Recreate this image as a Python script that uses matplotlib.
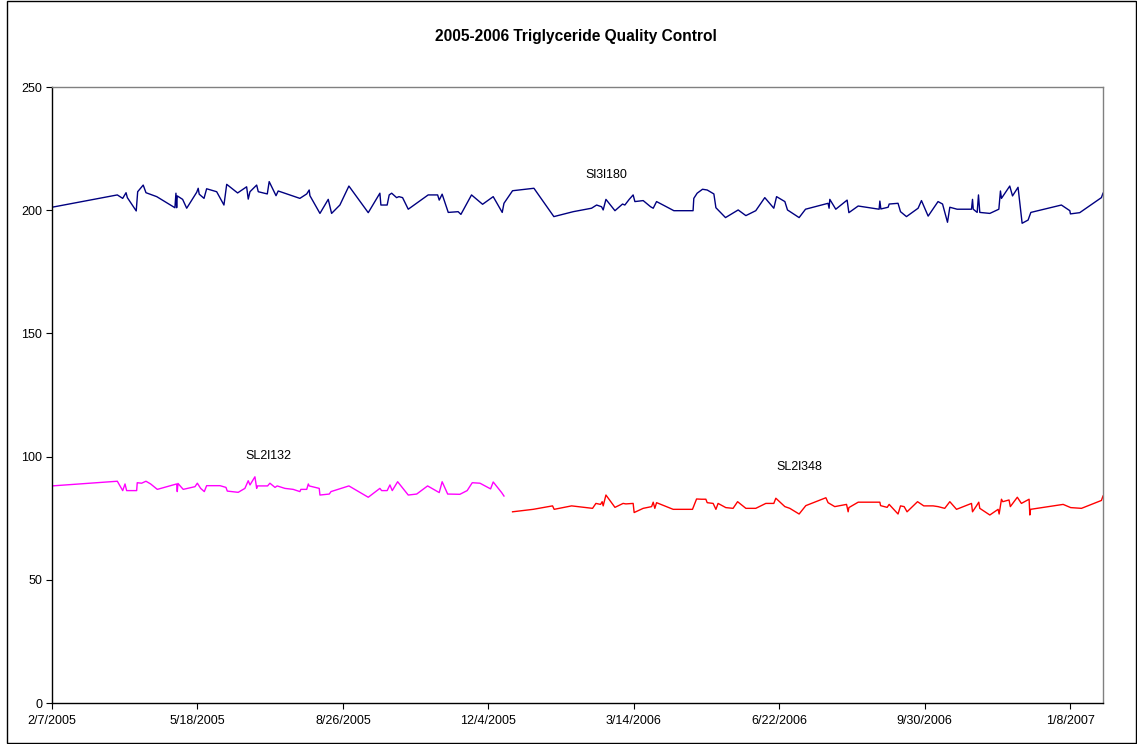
import matplotlib
matplotlib.use("Agg")
import matplotlib.pyplot as plt
from matplotlib.patches import Rectangle

plt.rcParams['font.family'] = ['Liberation Sans', 'DejaVu Sans']

# x values: days since 2/7/2005
navy_days = [0, 44.9, 48.6, 50.9, 51.8, 57.9, 58.9, 62.7, 64.6, 72.0, 84.5, 85.2, 85.7, 86.1, 89.8,
             92.6, 99.5, 100.5, 101.2, 104.5, 106.3, 113.2, 118.2, 120.1, 127.6, 133.8, 134.9, 136.1,
             140.7, 141.8, 148.0, 149.3, 154.0, 155.5, 170.4, 175.1, 176.8, 177.3, 184.2, 189.9, 192.2,
             197.9, 204.1, 217.4, 225.4, 226.1, 230.4, 231.8, 233.5, 236.9, 238.5, 241.0, 244.9, 258.6,
             265.1, 266.2, 268.2, 272.4, 279.2, 281.1, 288.4, 296.0, 303.3, 309.5, 310.7, 316.6, 331.3,
             345.0, 358.3, 370.9, 374.4, 377.8, 378.9, 380.8, 387.0, 392.2, 393.8, 396.8, 399.5, 400.7,
             406.4, 411.5, 413.3, 415.6, 427.5, 440.7, 441.2, 443.5, 447.2, 450.4, 455.0, 456.4, 463.0,
             471.7, 477.0, 483.8, 490.0, 496.2, 498.1, 503.8, 505.6, 513.6, 518.0, 533.5, 534.2, 534.7,
             538.8, 546.6, 547.8, 554.2, 568.6, 569.1, 569.8, 574.8, 575.5, 581.6, 583.3, 587.4, 595.4,
             597.7, 602.3, 609.1, 612.2, 615.6, 617.2, 622.2, 632.1, 632.8, 633.3, 636.0, 636.9, 637.8,
             644.7, 650.9, 652.0, 652.7, 658.4, 660.3, 664.1, 666.9, 671.0, 672.9, 693.9, 699.7, 700.1,
             706.5, 721.4, 722.5]
navy_vals = [201.2, 206.2, 204.8, 207.1, 205.1, 199.7, 207.5, 210.2, 207.1, 205.5, 201.0, 206.9, 201.0,
             205.8, 204.4, 200.8, 207.3, 208.9, 206.5, 204.8, 208.7, 207.5, 202.1, 210.5, 207.0, 209.5,
             204.5, 207.5, 210.2, 207.5, 206.6, 211.6, 205.9, 207.8, 204.8, 206.6, 208.2, 205.9, 198.7,
             204.4, 198.7, 202.1, 209.8, 199.0, 206.9, 202.1, 202.1, 206.2, 206.9, 205.1, 205.5, 205.1,
             200.4, 206.2, 206.2, 204.1, 206.5, 199.1, 199.4, 198.3, 206.2, 202.4, 205.5, 199.1, 202.8,
             207.9, 208.9, 197.4, 199.4, 200.8, 202.1, 201.4, 200.1, 204.4, 199.8, 202.5, 202.1, 204.4,
             206.2, 203.5, 203.9, 201.4, 200.8, 203.5, 199.8, 199.8, 204.8, 206.9, 208.5, 208.2, 206.6,
             201.0, 197.0, 200.1, 197.8, 199.8, 205.1, 200.8, 205.5, 203.5, 200.1, 197.0, 200.4, 202.8,
             200.8, 204.4, 200.4, 204.1, 199.0, 201.7, 200.4, 203.7, 200.5, 201.2, 202.5, 202.8, 199.4,
             197.4, 200.8, 203.9, 197.6, 203.5, 202.5, 195.1, 201.2, 200.4, 200.4, 204.4, 200.4, 199.1,
             206.2, 199.1, 198.7, 200.4, 207.8, 204.8, 209.8, 205.8, 209.3, 194.7, 196.0, 199.1, 202.1,
             199.8, 198.5, 199.0, 205.1, 206.9]

mag_days = [0, 44.9, 48.6, 50.2, 51.3, 58.2, 58.6, 61.6, 64.6, 67.8, 72.4, 85.7, 86.1, 86.6, 90.2,
            98.3, 99.9, 102.2, 104.7, 106.3, 115.5, 119.6, 120.5, 128.0, 132.6, 134.9, 136.1, 139.5,
            140.7, 141.1, 148.2, 149.8, 153.3, 154.8, 160.1, 165.8, 170.4, 171.1, 175.1, 176.2, 176.8,
            183.7, 184.2, 190.6, 191.8, 204.1, 217.4, 225.4, 226.6, 230.4, 232.3, 233.9, 237.6, 244.9,
            250.7, 258.2, 266.2, 268.2, 272.0, 280.4, 285.4, 288.9, 294.2, 301.5, 303.3, 309.1, 310.7]
mag_vals = [88.1, 90.0, 86.2, 88.9, 86.2, 86.2, 89.4, 89.2, 90.0, 88.9, 86.7, 88.9, 85.8, 89.1, 86.7,
            87.8, 89.2, 87.1, 85.8, 88.2, 88.2, 87.5, 86.0, 85.5, 87.1, 90.2, 88.5, 91.8, 87.1, 88.1,
            88.1, 89.2, 87.5, 88.1, 87.1, 86.7, 85.8, 86.7, 86.7, 88.9, 88.1, 87.1, 84.4, 84.8, 85.8,
            88.1, 83.5, 87.1, 86.2, 86.2, 88.5, 86.2, 89.8, 84.4, 84.8, 88.1, 85.4, 89.8, 84.8, 84.7,
            86.2, 89.4, 89.2, 86.9, 89.7, 85.4, 84.0]

red_days = [316.6, 330.8, 344.1, 345.2, 357.2, 371.6, 373.9, 377.1, 378.2, 378.9, 380.8, 387.0, 392.6,
            394.5, 399.5, 400.2, 406.4, 412.2, 413.3, 414.4, 415.6, 427.0, 440.3, 443.1, 446.5, 449.5,
            450.4, 454.5, 456.4, 457.9, 463.2, 468.2, 471.3, 477.0, 483.8, 490.7, 496.2, 497.6, 503.8,
            507.2, 513.6, 518.2, 532.0, 533.5, 538.1, 546.2, 547.3, 547.8, 554.2, 569.1, 569.6, 574.1,
            575.5, 581.6, 583.3, 585.8, 587.8, 595.0, 599.3, 605.7, 609.1, 613.7, 617.2, 621.8, 632.1,
            632.8, 635.5, 637.1, 637.8, 644.7, 650.4, 651.1, 652.7, 653.6, 657.9, 658.8, 663.6, 666.4,
            671.7, 672.2, 672.7, 695.1, 700.3, 707.7, 721.4, 722.5]
red_vals = [77.6, 78.6, 80.0, 78.6, 80.0, 79.0, 81.0, 80.6, 81.7, 80.0, 84.4, 79.4, 81.0, 80.8, 81.0,
            77.3, 79.0, 79.7, 81.5, 79.0, 81.3, 78.6, 78.6, 82.8, 82.7, 82.7, 81.3, 81.0, 78.6, 81.0,
            79.3, 79.0, 81.7, 79.0, 79.0, 81.0, 81.0, 83.1, 79.7, 79.0, 76.7, 80.1, 83.3, 81.3, 79.7,
            80.6, 77.6, 79.3, 81.5, 81.5, 80.1, 79.4, 80.6, 76.7, 80.0, 79.7, 77.6, 81.7, 80.0, 80.0,
            79.7, 79.0, 81.7, 78.6, 81.0, 77.6, 80.0, 81.5, 79.0, 76.3, 78.6, 76.7, 82.7, 81.7, 82.4,
            79.7, 83.5, 81.0, 82.7, 76.3, 78.6, 80.6, 79.3, 79.0, 82.2, 84.0]

tick_days = [0, 100, 200, 300, 400, 500, 600, 700]
tick_labels = ['2/7/2005', '5/18/2005', '8/26/2005', '12/4/2005', '3/14/2006', '6/22/2006',
               '9/30/2006', '1/8/2007']
y_ticks = [0, 50, 100, 150, 200, 250]

fig = plt.figure(figsize=(11.37, 7.44), dpi=100)
ax = fig.add_axes([52/1137, 1 - 703/744, (1103 - 52)/1137, (703 - 87)/744])

ax.plot(navy_days, navy_vals, color='#000080', lw=1.0)
ax.plot(mag_days, mag_vals, color='#FF00FF', lw=1.0)
ax.plot(red_days, red_vals, color='#FF0000', lw=1.0)

ax.set_xlim(0, 722.5)
ax.set_ylim(0, 250)
ax.set_xticks(tick_days)
ax.set_xticklabels(tick_labels, fontsize=9)
ax.set_yticks(y_ticks)
ax.set_yticklabels([str(v) for v in y_ticks], fontsize=9)
ax.tick_params(direction='out', length=4, width=0.8, pad=5, colors='black')
ax.tick_params(axis='y', pad=3)

ax.spines['left'].set_color('black')
ax.spines['bottom'].set_color('black')
ax.spines['top'].set_color('#808080')
ax.spines['right'].set_color('#808080')
for s in ax.spines.values():
    s.set_linewidth(1.0)

ax.text(381.4, 214.3, 'Sl3l180', fontsize=9, ha='center', va='center')
ax.text(148.5, 100.2, 'SL2l132', fontsize=9, ha='center', va='center')
ax.text(514, 95.8, 'SL2l348', fontsize=9, ha='center', va='center')

fig.text(576/1137, 1 - 36/744, '2005-2006 Triglyceride Quality Control', fontsize=11.2,
         fontweight='bold', ha='center', va='center')

fig.patches.append(Rectangle((7/1137, 1/744), (1136 - 7)/1137, (743 - 1)/744,
                             transform=fig.transFigure, fill=False, edgecolor='black',
                             linewidth=1.0))

fig.savefig('out.png', dpi=100)
